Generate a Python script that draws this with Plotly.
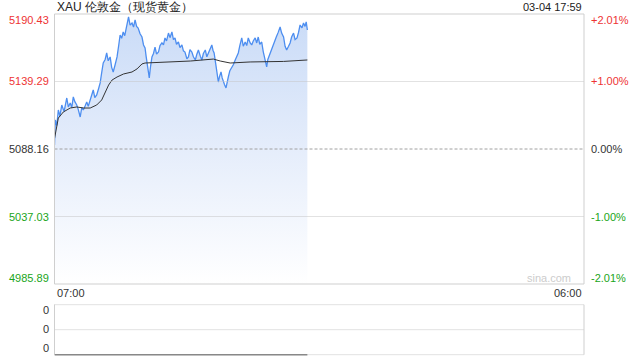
import plotly.graph_objects as go
import pandas as pd

# ---------------- data ----------------
title_text = "XAU 伦敦金（现货黄金）"
stamp_text = "03-04 17:59"
day = "2026-03-04"
x_start = "2026-03-04 07:00"
x_end = "2026-03-05 06:00"
x_tick_labels = ["07:00", "06:00"]

times = [
    "07:00","07:01","07:02","07:06","07:10","07:14","07:19","07:25","07:32","07:36","07:41","07:45","07:49","07:53","07:58",
    "08:02","08:07","08:11","08:15","08:20","08:24","08:28","08:33","08:37","08:41","08:45","08:50","08:55","08:59",
    "09:03","09:07","09:12","09:16","09:20","09:25","09:29","09:33","09:38","09:43","09:47","09:51","09:55","09:59",
    "10:03","10:07","10:10","10:13","10:17","10:22","10:26","10:30","10:34","10:38","10:43","10:48","10:52","10:56","10:59",
    "11:02","11:05","11:07","11:10","11:14","11:18","11:22","11:26","11:31","11:35","11:40","11:44","11:48","11:52","11:57",
    "12:01","12:06","12:10","12:14","12:18","12:23","12:27","12:32","12:36","12:40","12:45","12:49","12:53","12:58",
    "13:02","13:07","13:11","13:15","13:20","13:24","13:28","13:33","13:37","13:41","13:45","13:50","13:53","13:56",
    "14:00","14:03","14:05","14:07","14:10","14:14","14:17","14:20","14:23","14:27","14:30","14:33","14:37","14:42","14:46","14:51","14:55","14:59",
    "15:03","15:08","15:12","15:17","15:21","15:25","15:30","15:34","15:38","15:43","15:47","15:51","15:55",
    "16:00","16:04","16:09","16:11","16:13","16:16","16:20","16:25","16:29","16:33","16:38","16:43","16:48","16:52","16:57",
    "17:01","17:05","17:10","17:14","17:18","17:23","17:27","17:32","17:36","17:40","17:45","17:49","17:53","17:56","17:59",
]
prices = [
    5091.2,5108.5,5110.1,5106.0,5117.7,5113.0,5121.5,5116.5,5126.8,5120.0,5123.0,5119.5,5127.6,5124.0,5121.5,
    5118.0,5112.4,5119.5,5117.7,5121.0,5123.8,5120.5,5125.3,5128.0,5132.9,5127.0,5129.1,5134.0,5138.2,
    5146.0,5153.3,5156.0,5160.9,5155.0,5157.9,5150.0,5146.5,5152.0,5157.9,5166.0,5174.5,5172.0,5176.8,
    5174.0,5179.8,5183.0,5188.2,5182.0,5183.6,5180.5,5185.9,5181.0,5179.8,5175.5,5173.0,5167.0,5164.7,5158.0,
    5151.8,5146.5,5142.0,5150.0,5157.9,5160.5,5165.4,5160.0,5161.6,5166.5,5168.5,5167.0,5172.3,5170.0,5176.0,
    5172.5,5176.8,5171.0,5172.3,5167.5,5169.2,5165.0,5167.0,5162.5,5161.6,5156.5,5157.9,5163.5,5161.6,
    5158.0,5155.6,5160.0,5163.2,5158.5,5155.6,5160.5,5163.2,5158.0,5160.9,5164.0,5167.0,5163.0,5160.9,
    5153.0,5148.0,5144.0,5138.9,5143.0,5146.5,5142.0,5138.9,5137.0,5134.4,5140.0,5142.7,5147.5,5149.5,5152.0,5155.6,5158.0,5160.9,
    5166.5,5172.3,5166.0,5169.2,5166.5,5172.3,5168.5,5167.0,5170.0,5172.3,5168.5,5173.0,5167.5,
    5169.2,5162.0,5155.6,5153.0,5150.3,5156.0,5159.4,5162.0,5165.4,5169.0,5173.0,5176.5,5180.6,5176.0,5173.0,
    5166.0,5163.2,5166.0,5168.5,5173.0,5176.0,5171.0,5172.3,5176.5,5182.1,5180.0,5183.6,5181.0,5184.4,5178.3,
]

avg_times = ["07:00","07:10","07:23","07:41","07:58","08:16","08:33","08:50","09:03",
             "09:12","09:21","09:30","09:43","10:00","10:22","10:35","10:48","10:56",
             "11:53","12:54","13:54","14:12","14:38","15:30","16:57","17:59"]
avg_prices = [5096.0,5111.6,5116.2,5119.2,5120.0,5119.2,5119.2,5121.5,5125.3,
              5130.6,5136.6,5140.4,5142.7,5145.0,5146.5,5148.8,5152.6,5153.3,
              5154.1,5154.8,5156.3,5154.8,5153.3,5154.1,5154.5,5155.6]

volumes = [0] * len(times)

price_ticks = [5190.43, 5139.29, 5088.16, 5037.03, 4985.89]
price_tick_labels = ["5190.43", "5139.29", "5088.16", "5037.03", "4985.89"]
pct_tick_labels = ["+2.01%", "+1.00%", "0.00%", "-1.00%", "-2.01%"]
vol_tick_labels = ["0", "0", "0"]

# ---------------- styles ----------------
W, H = 640, 360
L, R = 54.5, 584.0          # plot left/right px
T, B = 14.0, 284.0          # main panel top/bottom px
VT, VB = 304.7, 354.7       # volume panel top/bottom px
RED, GREEN, BLACK = "#ee3333", "#1aa51a", "#333333"
FONT = "Liberation Sans, Arial, sans-serif"

def px(x):
    return x / W

def py(y):
    return 1 - y / H

ts = pd.to_datetime([f"{day} {t}" for t in times])
ats = pd.to_datetime([f"{day} {t}" for t in avg_times])

fig = go.Figure()

fig.add_trace(go.Scatter(
    x=ts, y=prices, mode="lines",
    line=dict(color="#4d8ef0", width=1.3),
    fill="tozeroy",
    fillgradient=dict(type="vertical",
                      colorscale=[[0, "#ffffff"], [0.5, "#e5edfb"], [1, "#c9dbf7"]],
                      start=price_ticks[-1], stop=price_ticks[0]),
    hoverinfo="skip", showlegend=False,
))
fig.add_trace(go.Scatter(
    x=ats, y=avg_prices, mode="lines",
    line=dict(color="#333333", width=1),
    hoverinfo="skip", showlegend=False,
))
fig.add_trace(go.Scatter(
    x=ts, y=volumes, mode="lines", xaxis="x2", yaxis="y2",
    line=dict(color="#888888", width=1.5),
    hoverinfo="skip", showlegend=False,
))

axis_common = dict(showgrid=False, zeroline=False, showline=False,
                   showticklabels=False, ticks="", fixedrange=True)
fig.update_layout(
    width=W, height=H,
    margin=dict(l=0, r=0, t=0, b=0),
    paper_bgcolor="white", plot_bgcolor="rgba(0,0,0,0)",
    xaxis=dict(domain=[px(L), px(R)], range=[x_start, x_end], type="date", **axis_common),
    yaxis=dict(domain=[py(B), py(T)], range=[price_ticks[-1], price_ticks[0]], **axis_common),
    xaxis2=dict(domain=[px(L), px(R)], range=[x_start, x_end], type="date",
                anchor="y2", **axis_common),
    yaxis2=dict(domain=[py(VB + 1.3), py(VT)], range=[-0.025, 1], anchor="x2", **axis_common),
    showlegend=False,
)

shapes = []
# main grid lines
for v in price_ticks[1:-1]:
    mid = (v == price_ticks[2])
    shapes.append(dict(type="line", xref="paper", yref="y",
                       x0=px(L), x1=px(R), y0=v, y1=v, layer="above",
                       line=dict(color="#a0a0a0" if mid else "#c4c4c4", width=1,
                                 dash="3px,2px" if mid else "1px,1px")))
# main border
shapes.append(dict(type="rect", xref="paper", yref="paper",
                   x0=px(L), x1=px(R), y0=py(B), y1=py(T),
                   line=dict(color="#cfcfcf", width=1), layer="above"))
# volume panel dotted horizontals
for yv in (VT, (VT + VB) / 2, VB):
    shapes.append(dict(type="line", xref="paper", yref="paper",
                       x0=px(L), x1=px(R), y0=py(yv), y1=py(yv), layer="below",
                       line=dict(color="#c4c4c4", width=1, dash="1px,1px")))
# volume panel sides
for xv in (L, R):
    shapes.append(dict(type="line", xref="paper", yref="paper",
                       x0=px(xv), x1=px(xv), y0=py(VB), y1=py(VT), layer="below",
                       line=dict(color="#cfcfcf", width=1)))
fig.update_layout(shapes=shapes)

ann = []
def text(x, y, s, color, size=11, xanchor="left", yanchor="middle"):
    ann.append(dict(x=px(x), y=py(y), xref="paper", yref="paper", text=s,
                    showarrow=False, xanchor=xanchor, yanchor=yanchor,
                    font=dict(family=FONT, size=size, color=color)))

text(L, 7, title_text, "#222222", size=12)
text(R, 7, stamp_text, "#222222", size=11, xanchor="right")

label_y = [20, 81.5, 149, 216.5, 278]
colors = [RED, RED, BLACK, GREEN, GREEN]
for lbl, pl, yy, c in zip(price_tick_labels, pct_tick_labels, label_y, colors):
    text(51, yy, lbl, c, xanchor="right")
    text(589, yy, pl, c, xanchor="left")

text(L, 293, x_tick_labels[0], BLACK)
text(R, 293, x_tick_labels[1], BLACK, xanchor="right")
text(573, 278, "sina.com", "#cccccc", size=11, xanchor="right")

for lbl, yy in zip(vol_tick_labels, [310, 329, 348]):
    text(51, yy, lbl, BLACK, xanchor="right")

fig.update_layout(annotations=ann)
fig.write_html("out.html")
